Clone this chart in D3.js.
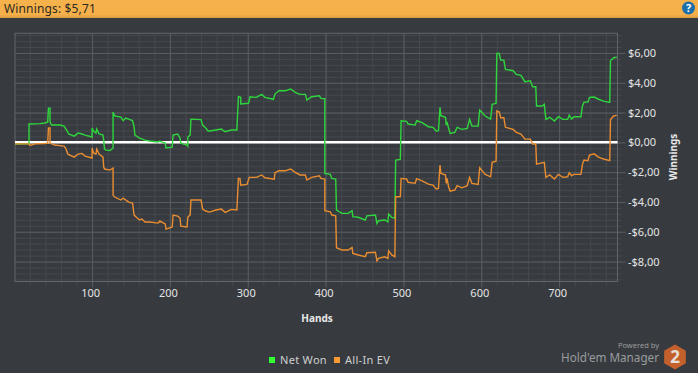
<!DOCTYPE html>
<html>
<head>
<meta charset="utf-8">
<style>
    html, body { margin: 0; padding: 0; background: #373b40; overflow: hidden; }
</style>
<script src="https://cdn.jsdelivr.net/npm/d3@7"></script>
</head>
<body>
<div id="chart-container"></div>
<script>
// Data
const netWonHands = [1,19,19,33,39,43,44,46,46,48,59,64,68,70,77,82,87,91,100,100,102,105,106,109,114,115,116,118,123,127,127,129,137,140,143,147,152,154,155,161,168,174,185,187,190,194,195,203,204,210,213,214,222,223,223,226,227,240,242,246,249,251,259,266,271,279,286,288,291,291,301,303,311,318,322,333,335,340,348,355,361,367,374,376,382,392,394,399,399,406,408,413,414,421,429,434,435,442,451,453,464,466,468,476,480,481,485,489,490,496,497,504,506,515,517,524,532,538,542,545,547,548,554,555,556,558,560,566,569,575,582,585,588,596,598,605,612,614,619,620,623,625,629,631,641,645,651,656,663,666,670,671,678,681,683,688,694,699,705,711,713,716,719,728,730,732,737,739,745,750,757,765,766,770,774];
const netWonValues = [-0.1,-0.1,1.23,1.26,1.3,1.36,2.3,2.3,1.36,1.16,1.16,1.09,0.76,0.56,0.42,0.62,0.56,0.49,0.36,0.96,0.76,0.62,0.89,0.56,0.49,0.15,-0.45,-0.52,-0.55,-0.38,2.03,1.77,1.7,1.46,1.63,1.56,1.46,1.03,0.49,0.29,0.15,0.09,0.02,0.09,0.02,-0.05,-0.38,-0.32,0.49,0.56,0.29,-0.05,-0.18,-0.25,0.36,0.49,1.56,1.53,1.16,0.96,0.76,0.76,0.83,0.89,0.71,0.83,0.83,3.06,3.02,2.57,2.62,3.06,3.02,3.22,3.02,2.89,3.24,3.46,3.46,3.58,3.36,3.22,3.22,2.84,3.06,3.13,2.95,2.93,-2.08,-2.15,-2.42,-2.46,-4.54,-4.77,-4.77,-4.59,-4.99,-5.03,-5.21,-4.93,-4.88,-5.44,-5.26,-5.21,-5.33,-4.81,-5.03,-5.1,-1.19,-1.14,1.45,1.41,1.23,1.16,1.45,1.32,1.05,1.01,0.76,0.78,2.35,1.79,1.68,1.16,1.38,0.94,0.6,0.67,1.01,0.87,0.94,1.54,1.09,1.09,2.17,1.77,1.56,2.55,2.62,5.97,5.97,5.52,5.52,4.9,4.81,4.56,4.5,4.07,4.13,3.73,3.73,2.44,2.44,2.55,1.54,1.68,1.43,1.72,1.54,1.54,1.83,1.56,1.72,1.72,2.46,2.7,2.7,3.02,3.04,2.91,2.77,2.68,5.48,5.68,5.71];

const allInHands = [1,19,20,28,39,43,44,46,46,52,64,66,69,77,82,87,91,100,100,102,105,106,109,114,115,116,123,127,127,129,137,140,147,152,154,158,161,164,168,174,185,187,194,195,203,204,210,213,214,222,223,226,227,240,242,246,251,259,266,271,279,286,288,290,291,299,302,311,318,322,334,335,340,348,355,361,367,374,376,382,392,394,399,399,406,408,413,414,421,429,434,435,442,451,453,464,466,468,476,480,481,485,489,490,496,497,504,506,515,517,524,532,538,542,545,547,548,554,555,556,558,560,566,569,575,582,585,588,596,598,605,612,614,619,620,623,625,629,631,641,645,651,656,663,666,670,671,681,683,688,694,699,705,711,713,716,719,728,730,732,737,739,745,750,757,765,766,770,774];
const allInValues = [-0.1,-0.1,-0.21,-0.09,-0.08,-0.05,0.96,0.96,-0.05,-0.18,-0.25,-0.38,-0.79,-0.99,-0.79,-0.74,-0.92,-1.05,-0.38,-0.72,-0.79,-0.45,-0.79,-0.99,-1.66,-1.79,-1.86,-1.72,-3.54,-3.67,-3.87,-3.74,-4.01,-4.07,-4.88,-5.08,-5.21,-5.15,-5.35,-5.35,-5.42,-5.28,-5.48,-5.82,-5.68,-4.88,-4.95,-5.08,-5.62,-5.68,-5.01,-4.88,-3.87,-3.87,-4.48,-4.61,-4.68,-4.54,-4.48,-4.7,-4.5,-4.54,-2.42,-2.42,-2.87,-2.82,-2.35,-2.35,-2.19,-2.38,-2.48,-2.04,-1.91,-1.91,-1.79,-2.01,-2.19,-2.19,-2.53,-2.35,-2.24,-2.42,-2.46,-4.59,-4.66,-4.88,-4.93,-7.07,-7.23,-7.23,-7.05,-7.45,-7.56,-7.68,-7.41,-7.38,-7.95,-7.79,-7.68,-7.79,-7.28,-7.56,-7.68,-3.65,-3.65,-2.42,-2.46,-2.68,-2.75,-2.44,-2.58,-2.8,-2.87,-3.13,-3.09,-1.52,-2.08,-2.19,-2.75,-2.42,-2.98,-3.27,-3.2,-2.91,-3.05,-2.91,-2.35,-2.75,-2.82,-1.7,-2.15,-2.31,-1.34,-1.26,2.1,2.05,1.65,1.65,1.01,0.87,0.67,0.56,0.22,0.22,-0.11,-0.11,-1.46,-1.34,-2.35,-2.19,-2.46,-2.15,-2.35,-2.31,-2.04,-2.24,-2.15,-2.15,-1.46,-1.19,-1.23,-0.85,-0.77,-0.97,-1.12,-1.23,1.54,1.77,1.81];

const xTicks = [100, 200, 300, 400, 500, 600, 700];
const yTicks = [6, 4, 2, 0, -2, -4, -6, -8];
const legendNames = ["Net Won", "All-In EV"];

const width = 698;
const height = 373;
const font = "'Noto Sans', sans-serif";

const svg = d3.select("#chart-container")
    .append("svg")
    .attr("width", width)
    .attr("height", height)
    .style("display", "block")
    .style("font-family", font);

svg.append("rect")
    .attr("width", width)
    .attr("height", height)
    .attr("fill", "#373b40");

// Header bar
const grad = svg.append("defs").append("linearGradient")
    .attr("id", "header")
    .attr("x1", 0).attr("x2", 0).attr("y1", 0).attr("y2", 1);
grad.append("stop").attr("offset", "0%").attr("stop-color", "#f6b24c");
grad.append("stop").attr("offset", "80%").attr("stop-color", "#f5b04a");
grad.append("stop").attr("offset", "100%").attr("stop-color", "#d99a42");

svg.append("rect")
    .attr("width", width)
    .attr("height", 18)
    .attr("fill", "url(#header)");

svg.append("text")
    .attr("x", 4)
    .attr("y", 13)
    .style("font-size", "12px")
    .style("letter-spacing", "0.15px")
    .style("fill", "#2c2a22")
    .text("Winnings: $5,71");

svg.append("circle")
    .attr("cx", 688.5)
    .attr("cy", 8)
    .attr("r", 6.5)
    .attr("fill", "#1c6fa8");

svg.append("text")
    .attr("x", 688.5)
    .attr("y", 12)
    .attr("text-anchor", "middle")
    .style("font-size", "11px")
    .style("font-weight", "bold")
    .style("fill", "#ffffff")
    .text("?");

// Scales
const xScale = d3.scaleLinear().domain([1, 775]).range([15, 617.5]);
const yScale = d3.scaleLinear().domain([7.32, -9.34]).range([33.3, 281.5]);

const tickFormat = (d) => (d < 0 ? "-" : "") + "$" + Math.abs(d) + ",00";

// Minor grid, every 20 hands and every 0,40
svg.append("g")
    .attr("transform", "translate(0, 281.5)")
    .call(d3.axisBottom(xScale).tickValues(d3.range(20, 775, 20)).tickSize(4).tickFormat(""))
    .call((g) => g.select(".domain").remove())
    .call((g) => g.selectAll("line").clone().attr("y1", -248.2).attr("y2", 0))
    .call((g) => g.selectAll("line").attr("stroke", "#46494d"));

svg.append("g")
    .attr("transform", "translate(617.5, 0)")
    .call(d3.axisRight(yScale).tickValues(d3.range(-9.2, 7.3, 0.4)).tickSize(4).tickFormat(""))
    .call((g) => g.select(".domain").remove())
    .call((g) => g.selectAll("line").clone().attr("x1", -602.5).attr("x2", 0))
    .call((g) => g.selectAll("line").attr("stroke", "#46494d"));

// Major grid
svg.append("g")
    .attr("transform", "translate(0, 281.5)")
    .call(d3.axisBottom(xScale).tickValues(xTicks).tickSize(6).tickPadding(2))
    .call((g) => g.select(".domain").remove())
    .call((g) => g.selectAll("line").clone().attr("y1", -248.2).attr("y2", 0))
    .call((g) => g.selectAll("line").attr("stroke", "#595d61"))
    .call((g) => g.selectAll("text")
        .attr("dx", -2)
        .style("font-family", font)
        .style("font-size", "11px")
        .style("fill", "#e4e4e4"));

svg.append("g")
    .attr("transform", "translate(617.5, 0)")
    .call(d3.axisRight(yScale).tickValues(yTicks).tickSize(8).tickPadding(0).tickFormat(tickFormat))
    .call((g) => g.select(".domain").remove())
    .call((g) => g.selectAll("line").clone().attr("x1", -602.5).attr("x2", 0))
    .call((g) => g.selectAll("line").attr("stroke", "#595d61"))
    .call((g) => g.selectAll("text")
        .attr("x", 10.5)
        .attr("text-anchor", "start")
        .style("font-family", font)
        .style("font-size", "11px")
        .style("fill", "#e4e4e4"));

// Plot frame
svg.append("rect")
    .attr("x", xScale(1))
    .attr("y", yScale(7.32))
    .attr("width", xScale(775) - xScale(1))
    .attr("height", yScale(-9.34) - yScale(7.32))
    .attr("fill", "none")
    .attr("stroke", "#62666a");

// Zero line
svg.append("line")
    .attr("x1", xScale(1))
    .attr("x2", xScale(775))
    .attr("y1", yScale(0))
    .attr("y2", yScale(0))
    .attr("stroke", "#ffffff")
    .attr("stroke-width", 2.5);

// Series lines
const line = d3.line()
    .x((d) => xScale(d[0]))
    .y((d) => yScale(d[1]));

svg.append("path")
    .datum(d3.zip(netWonHands, netWonValues))
    .attr("d", line)
    .attr("fill", "none")
    .attr("stroke", "#2ed63c")
    .attr("stroke-width", 1.4);

svg.append("path")
    .datum(d3.zip(allInHands, allInValues))
    .attr("d", line)
    .attr("fill", "none")
    .attr("stroke", "#e98d30")
    .attr("stroke-width", 1.4);

// Axis titles
svg.append("text")
    .attr("x", 317)
    .attr("y", 322)
    .attr("text-anchor", "middle")
    .style("font-size", "10px")
    .style("font-weight", "bold")
    .style("fill", "#e8e8e8")
    .text("Hands");

svg.append("text")
    .attr("transform", "translate(677, 157) rotate(-90)")
    .attr("text-anchor", "middle")
    .style("font-size", "10px")
    .style("font-weight", "bold")
    .style("fill", "#e8e8e8")
    .text("Winnings");

// Legend
const legendColors = ["#33ff33", "#ff9933"];
const legendX = [269, 334];

svg.selectAll(".legend-box")
    .data(legendNames)
    .enter()
    .append("rect")
    .attr("class", "legend-box")
    .attr("x", (d, i) => legendX[i])
    .attr("y", 357)
    .attr("width", 6)
    .attr("height", 6)
    .attr("fill", (d, i) => legendColors[i]);

svg.selectAll(".legend-label")
    .data(legendNames)
    .enter()
    .append("text")
    .attr("class", "legend-label")
    .attr("x", (d, i) => legendX[i] + 11)
    .attr("y", 364)
    .style("font-size", "11px")
    .style("letter-spacing", "0.3px")
    .style("fill", "#cfcfcf")
    .text((d) => d);

// Logo
svg.append("text")
    .attr("x", 659)
    .attr("y", 347.5)
    .attr("text-anchor", "end")
    .style("font-size", "7.5px")
    .style("fill", "#9a9c9e")
    .text("Powered by");

svg.append("text")
    .attr("x", 659)
    .attr("y", 362)
    .attr("text-anchor", "end")
    .style("font-size", "11.7px")
    .style("fill", "#9a9c9e")
    .text("Hold'em Manager");

svg.append("path")
    .attr("transform", "translate(675, 357)")
    .attr("d", d3.lineRadial().curve(d3.curveLinearClosed)(d3.range(6).map((i) => [i * Math.PI / 3, 12.5])))
    .attr("fill", "#c4602c");

svg.append("text")
    .attr("x", 675)
    .attr("y", 363)
    .attr("text-anchor", "middle")
    .style("font-size", "17px")
    .style("font-weight", "bold")
    .style("fill", "#e6e0da")
    .text("2");
</script>
</body>
</html>
